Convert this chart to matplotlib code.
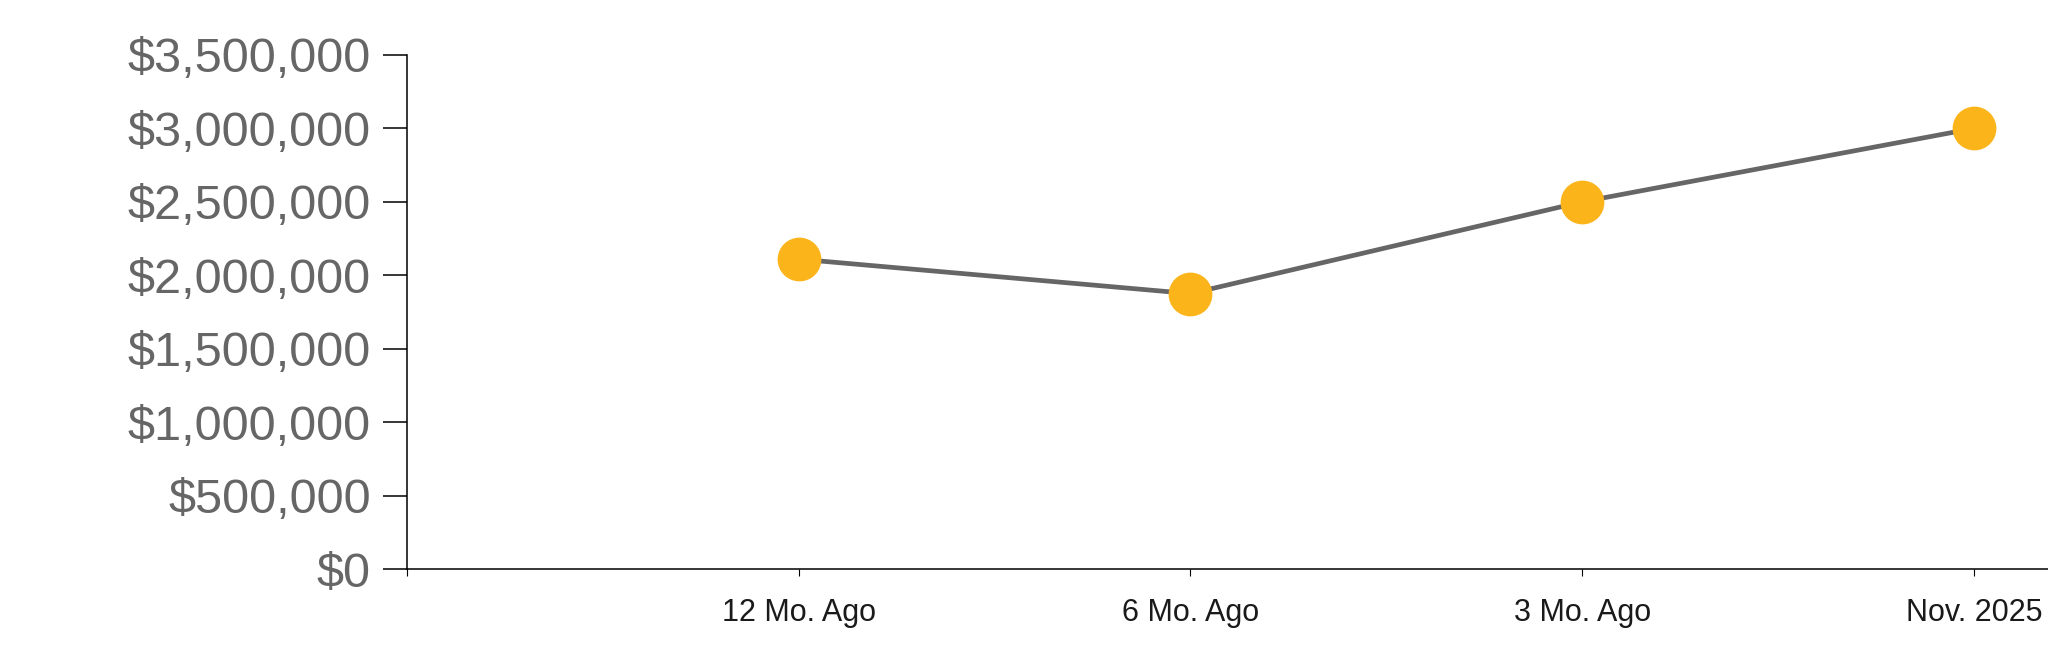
import matplotlib.pyplot as plt
from matplotlib.ticker import FuncFormatter

# dados do gráfico
periodos = ['12 Mo. Ago', '6 Mo. Ago', '3 Mo. Ago', 'Nov. 2025']
valores = [2110000, 1875000, 2500000, 3000000]
y_ticks = [0, 500000, 1000000, 1500000, 2000000, 2500000, 3000000, 3500000]

plt.rcParams['font.family'] = ['Liberation Sans', 'DejaVu Sans']

fig = plt.figure(figsize=(20.48, 6.63), dpi=100)
ax = fig.add_axes([407 / 2048, 94 / 663, 1 - 407 / 2048, (569 - 55) / 663])

posicoes = list(range(1, len(periodos) + 1))

# linha cinza e pontos amarelos
ax.plot(posicoes, valores, color='#666666', linewidth=3.4, zorder=2)
ax.plot(posicoes, valores, linestyle='none', marker='o', markersize=30.5,
        markerfacecolor='#FBB41A', markeredgecolor='#FBB41A', zorder=3, clip_on=False)

ax.set_xlim(0, (2048 - 407) / 391.7)
ax.set_ylim(0, 3500000)

ax.set_xticks(posicoes)
ax.set_xticklabels(periodos)
ax.set_xticks([0], minor=True)
ax.set_yticks(y_ticks)
ax.yaxis.set_major_formatter(FuncFormatter(lambda v, p: '${:,.0f}'.format(v)))

for s in ['top', 'right']:
    ax.spines[s].set_visible(False)
for s in ['left', 'bottom']:
    ax.spines[s].set_color('black')
    ax.spines[s].set_linewidth(1.1)

ax.tick_params(axis='y', length=17, width=1.1, pad=9, labelsize=35, labelcolor='#666666')
ax.tick_params(axis='x', which='both', length=5, width=0.8, pad=16, labelsize=22, labelcolor='#1a1a1a')

fig.savefig('out.png', dpi=100)
